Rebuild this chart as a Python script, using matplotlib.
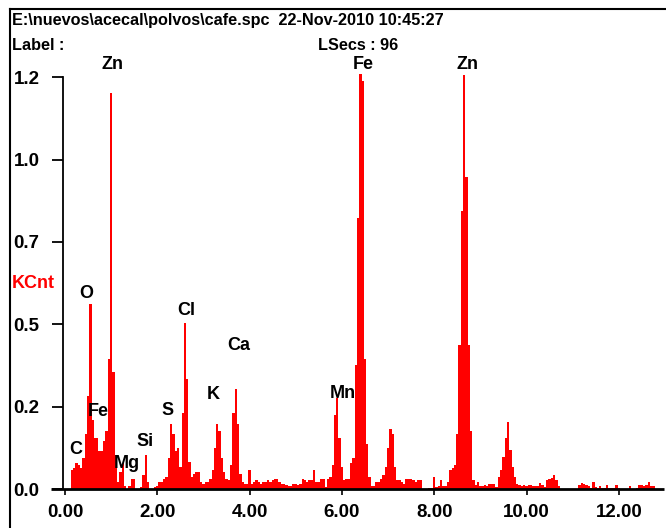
import numpy as np
import matplotlib.pyplot as plt
from matplotlib.lines import Line2D

# EDS spectrum, channels 0.05 keV wide, counts in KCnt
step = 0.05
kcnt = [
    # 0.00 - 0.95
    0, 0, 0, 0.055, 0.06, 0.075, 0.07, 0.06, 0.09, 0.16,
    0.27, 0.54, 0.2, 0.15, 0.15, 0.11, 0.11, 0.14, 0.17, 0.38,
    # 1.00 - 1.95
    1.153, 0.34, 0.10, 0.02, 0.05, 0.075, 0.01, 0.0, 0.01, 0.03,
    0.03, 0.0, 0.0, 0.005, 0.04, 0.10, 0.02, 0.0, 0.0, 0.005,
    # 2.00 - 2.95
    0.01, 0.02, 0.02, 0.03, 0.035, 0.09, 0.19, 0.16, 0.11, 0.12,
    0.065, 0.22, 0.485, 0.32, 0.08, 0.035, 0.045, 0.05, 0.05, 0.02,
    # 3.00 - 3.95
    0.015, 0.02, 0.02, 0.03, 0.055, 0.12, 0.19, 0.17, 0.09, 0.05,
    0.03, 0.025, 0.07, 0.22, 0.29, 0.19, 0.045, 0.02, 0.015, 0.015,
    # 4.00 - 4.95
    0.055, 0.015, 0.02, 0.025, 0.02, 0.015, 0.02, 0.02, 0.025, 0.02,
    0.025, 0.03, 0.03, 0.02, 0.015, 0.015, 0.012, 0.01, 0.01, 0.015,
    # 5.00 - 5.95
    0.015, 0.012, 0.015, 0.03, 0.025, 0.02, 0.025, 0.025, 0.055, 0.02,
    0.02, 0.03, 0.03, 0.005, 0.03, 0.035, 0.07, 0.215, 0.265, 0.15,
    # 6.00 - 6.95
    0.065, 0.025, 0.03, 0.03, 0.076, 0.09, 0.36, 0.79, 1.21, 1.19,
    0.38, 0.13, 0.035, 0.01, 0.01, 0.02, 0.02, 0.03, 0.04, 0.065,
    # 7.00 - 7.95
    0.12, 0.175, 0.16, 0.065, 0.025, 0.025, 0.02, 0.015, 0.03, 0.03,
    0.03, 0.025, 0.02, 0.025, 0.025, 0.0, 0.0, 0.0, 0.004, 0.004,
    # 8.00 - 8.95
    0.035, 0.005, 0.01, 0.025, 0.01, 0.01, 0.02, 0.055, 0.06, 0.07,
    0.16, 0.42, 0.81, 1.206, 0.91, 0.42, 0.17, 0.025, 0.012, 0.02,
    # 9.00 - 9.95
    0.01, 0.01, 0.012, 0.01, 0.015, 0.015, 0.015, 0.005, 0.035, 0.055,
    0.093, 0.15, 0.196, 0.114, 0.065, 0.035, 0.015, 0.012, 0.008, 0.012,
    # 10.00 - 10.95
    0.008, 0.012, 0.012, 0.01, 0.008, 0.008, 0.018, 0.012, 0.005, 0.025,
    0.028, 0.032, 0.04, 0.025, 0.008, 0, 0, 0, 0, 0,
    # 11.00 - 11.95
    0, 0, 0, 0.013, 0.018, 0.015, 0.012, 0.008, 0.004, 0.02,
    0.005, 0.004, 0.01, 0.004, 0.004, 0.013, 0.004, 0.004, 0.004, 0.012,
    # 12.00 - 12.75
    0.004, 0, 0, 0, 0, 0.008, 0, 0, 0.004, 0.013,
    0.013, 0.01, 0.012, 0.02, 0.008, 0.008,
]
# channel edges (channel i is centred on i*step)
edges = (np.arange(len(kcnt) + 1) - 0.5) * step

# element labels (keV, KCnt)
elements = ["Zn", "Fe", "Zn", "O", "Cl", "Ca", "K", "S", "Si", "Mg", "Fe", "C", "Mn"]
label_x = [1.02, 6.46, 8.72, 0.45, 2.63, 3.76, 3.22, 2.22, 1.73, 1.34, 0.73, 0.24, 6.01]
label_y = [1.238, 1.238, 1.238, 0.571, 0.521, 0.417, 0.275, 0.230, 0.138, 0.073, 0.226, 0.114, 0.277]

ytick_pos = [0, 0.24, 0.48, 0.72, 0.96, 1.2]
ytick_lab = ["0.0", "0.2", "0.5", "0.7", "1.0", "1.2"]
xtick_pos = [0, 2, 4, 6, 8, 10, 12]

header1 = "E:\\nuevos\\acecal\\polvos\\cafe.spc  22-Nov-2010 10:45:27"
header2 = "Label :"
header3 = "LSecs : 96"

W, H = 666, 528
plt.rcParams['font.family'] = ['Liberation Sans', 'DejaVu Sans']
plt.rcParams['font.weight'] = 'bold'

fig = plt.figure(figsize=(W / 100, H / 100), dpi=100)
ax = fig.add_axes([63 / W, 39 / H, 601 / W, 429 / H])

ax.stairs(kcnt, edges, fill=True, color='#ff0000', linewidth=0, zorder=2)

ax.set_xlim(-2 / 46.15, 599 / 46.15)
ax.set_ylim(0, 1.25)

for sp in ['top', 'right', 'bottom']:
    ax.spines[sp].set_visible(False)
ax.spines['left'].set_linewidth(1.3)
ax.spines['left'].set_bounds(0, 1.2)
# thick base line, sticking out to the left like the 0.0 tick
ax.plot([-0.02, 1.0], [0, 0], color='black', lw=2.0, transform=ax.get_yaxis_transform(),
        clip_on=False, zorder=3, solid_capstyle='butt')

ax.set_yticks(ytick_pos)
ax.set_yticklabels(ytick_lab)
ax.set_xticks(xtick_pos)
ax.set_xticklabels(["%.2f" % v for v in xtick_pos])
ax.tick_params(axis='y', length=8, width=1.3, pad=9, labelsize=13.5)
ax.tick_params(axis='x', length=4.5, width=1.2, pad=6, labelsize=13.5)

for name, x, y in zip(elements, label_x, label_y):
    ax.text(x, y, name, ha='center', va='center', fontsize=13, fontweight='bold',
            color='black', zorder=5, clip_on=False)

fig.text(12 / W, 1 - 20 / H, header1, ha='left', va='center', fontsize=11.7, fontweight='bold')
fig.text(12 / W, 1 - 45 / H, header2, ha='left', va='center', fontsize=11.7, fontweight='bold')
fig.text(318 / W, 1 - 45 / H, header3, ha='left', va='center', fontsize=11.7, fontweight='bold')
fig.text(12 / W, 1 - 284 / H, "KCnt", ha='left', va='center', fontsize=13, fontweight='bold',
         color='#ff0000')

# frame lines at left and top
fig.add_artist(Line2D([9.5 / W, 9.5 / W], [0, 1 - 9 / H], color='black', lw=1.5))
fig.add_artist(Line2D([9.5 / W, 1], [1 - 9 / H, 1 - 9 / H], color='black', lw=1.5))

fig.savefig("out.png", dpi=100)
